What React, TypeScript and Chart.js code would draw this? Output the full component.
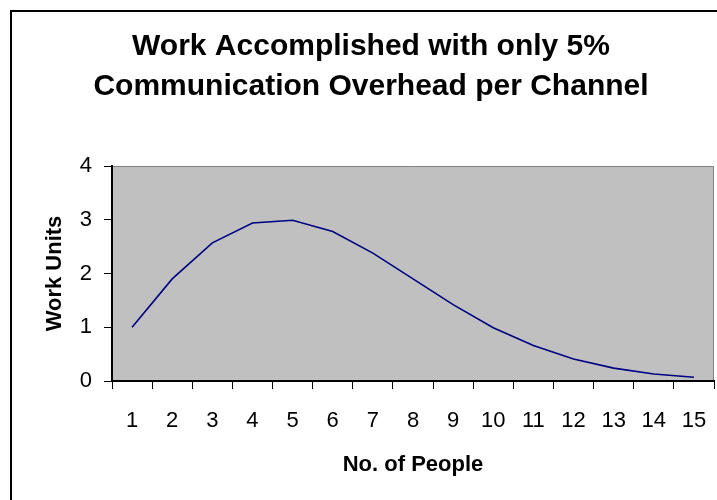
import React, { useEffect, useRef } from "react";
import { Chart, registerables } from "chart.js";

Chart.register(...registerables);

const TITLE_LINES = ["Work Accomplished with only 5%", "Communication Overhead per Channel"];
const X_TITLE = "No. of People";
const Y_TITLE = "Work Units";
const PEOPLE = ["1", "2", "3", "4", "5", "6", "7", "8", "9", "10", "11", "12", "13", "14", "15"];
const WORK_UNITS = [1.0, 1.9, 2.57, 2.94, 2.99, 2.78, 2.38, 1.9, 1.42, 0.99, 0.66, 0.41, 0.24, 0.13, 0.07];
const Y_MIN = 0;
const Y_MAX = 4;
const Y_STEP = 1;

const FONT = "'Liberation Sans', Arial, Helvetica, sans-serif";

const framePlugin = {
  id: "frame",
  beforeDraw(chart: any) {
    const { ctx, chartArea } = chart;
    const { left, top, right, bottom } = chartArea;
    ctx.save();
    ctx.fillStyle = "#ffffff";
    ctx.fillRect(0, 0, chart.width, chart.height);
    // outer chart border (left and top edges visible)
    ctx.fillStyle = "#000000";
    ctx.fillRect(10, 10, chart.width - 10, 2);
    ctx.fillRect(10, 10, 2, chart.height - 10);
    // plot area
    ctx.fillStyle = "#c0c0c0";
    ctx.fillRect(left, top, right - left, bottom - top);
    ctx.strokeStyle = "#808080";
    ctx.lineWidth = 1;
    ctx.beginPath();
    ctx.moveTo(left, top + 0.5);
    ctx.lineTo(right - 0.5, top + 0.5);
    ctx.lineTo(right - 0.5, bottom);
    ctx.stroke();
    ctx.restore();
  },
};

export default function App() {
  const ref = useRef<HTMLCanvasElement | null>(null);

  useEffect(() => {
    if (!ref.current) return;
    const chart = new Chart(ref.current, {
      type: "line",
      data: {
        labels: PEOPLE,
        datasets: [
          {
            data: WORK_UNITS,
            borderColor: "#000080",
            borderWidth: 1.6,
            pointRadius: 0,
            tension: 0,
            fill: false,
          },
        ],
      },
      options: {
        animation: false,
        responsive: false,
        devicePixelRatio: 1,
        layout: { padding: { left: 28, right: 3, top: 0, bottom: 0 } },
        plugins: {
          legend: { display: false },
          tooltip: { enabled: false },
          title: {
            display: true,
            text: TITLE_LINES,
            color: "#000000",
            font: { family: FONT, size: 30, weight: "bold", lineHeight: 40 / 30 },
            padding: { top: 27, bottom: 59 },
          },
        },
        scales: {
          x: {
            type: "category",
            offset: true,
            afterFit: (scale: any) => {
              scale.height = 119;
              scale.paddingLeft = 0;
              scale.paddingRight = 0;
            },
            grid: {
              offset: true,
              drawOnChartArea: false,
              drawTicks: true,
              tickLength: 8,
              color: "#000000",
              lineWidth: 1,
            },
            border: { display: true, color: "#000000", width: 2 },
            ticks: {
              color: "#000000",
              font: { family: FONT, size: 22 },
              padding: 19,
              maxRotation: 0,
              autoSkip: false,
            },
            title: {
              display: true,
              text: X_TITLE,
              color: "#000000",
              font: { family: FONT, size: 22, weight: "bold", lineHeight: 1.2 },
              padding: { top: 0, bottom: 22 },
            },
          },
          y: {
            min: Y_MIN,
            max: Y_MAX,
            afterFit: (scale: any) => {
              scale.width = 84;
            },
            grid: {
              drawOnChartArea: false,
              drawTicks: true,
              tickLength: 8,
              color: "#000000",
              lineWidth: 1,
            },
            border: { display: true, color: "#000000", width: 2 },
            ticks: {
              stepSize: Y_STEP,
              color: "#000000",
              font: { family: FONT, size: 22 },
              padding: 12,
            },
            title: {
              display: true,
              text: Y_TITLE,
              color: "#000000",
              font: { family: FONT, size: 22, weight: "bold", lineHeight: 1.2 },
              padding: { top: 14, bottom: 0 },
            },
          },
        },
      },
      plugins: [framePlugin],
    });
    return () => chart.destroy();
  }, []);

  return (
    <div style={{ position: "absolute", left: 0, top: 0, width: 717, height: 500 }}>
      <canvas ref={ref} width={717} height={500} style={{ width: 717, height: 500, display: "block" }} />
    </div>
  );
}
